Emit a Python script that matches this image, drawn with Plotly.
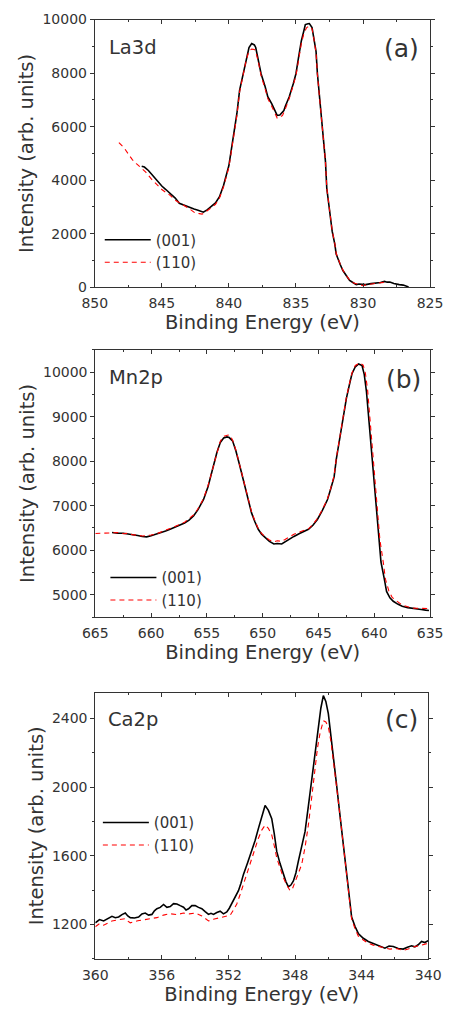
import plotly.graph_objects as go

# ---------------- Data ----------------
# (a) La3d
la_x_001 = [846.5, 846.3, 846.0, 845.7, 845.3, 845.0, 844.7, 844.4, 844.0, 843.7, 843.3, 843.0, 842.6, 842.3,
            842.0, 841.9, 841.6, 841.3, 841.0, 840.7, 840.4, 840.0, 839.7, 839.4, 839.2, 838.9, 838.7, 838.5,
            838.3, 838.1, 838.0, 837.8, 837.6, 837.3, 837.1, 836.8, 836.6, 836.4, 836.2, 836.1, 835.9, 835.8,
            835.5, 835.2, 835.0, 834.8, 834.6, 834.4, 834.3, 834.1, 834.0, 833.8, 833.7, 833.5, 833.4, 833.2,
            833.0, 832.8, 832.7, 832.5, 832.3, 832.1, 832.0, 831.7, 831.5, 831.2, 831.0, 830.7, 830.5, 830.3,
            830.1, 829.8, 829.4, 829.0, 828.7, 828.4, 828.2, 828.0, 827.7, 827.3, 827.0, 826.6]
la_y_001 = [4520, 4490, 4361, 4180, 3932, 3780, 3650, 3528, 3330, 3136, 3050, 2977, 2920, 2880,
            2830, 2805, 2900, 3014, 3150, 3381, 3800, 4545, 5525, 6500, 7362, 8100, 8587, 8950,
            9102, 9050, 8955, 8500, 7975, 7500, 7117, 6850, 6627, 6420, 6430, 6480, 6600, 6750,
            7117, 7600, 7975, 8600, 9200, 9600, 9812, 9840, 9849, 9700, 9445, 8800, 7975, 6900,
            5892, 4700, 3687, 2800, 2095, 1600, 1237, 850, 625, 400, 257, 160, 98, 120,
            110, 100, 135, 150, 180, 220, 190, 196, 140, 98, 80, 12]

la_x_110 = [848.2, 847.8, 847.5, 847.2, 846.9, 846.6, 846.2, 845.8, 845.4, 845.0, 844.7, 844.4, 844.0, 843.7,
            843.4, 843.0, 842.7, 842.5, 842.2, 842.0, 841.8, 841.6, 841.3, 841.0, 840.7, 840.4, 840.0, 839.7,
            839.4, 839.2, 838.9, 838.7, 838.5, 838.3, 838.1, 838.0, 837.8, 837.6, 837.3, 837.1, 836.8, 836.6,
            836.4, 836.2, 836.0, 835.8, 835.5, 835.2, 835.0, 834.8, 834.6, 834.4, 834.2, 834.0, 833.8, 833.7,
            833.5, 833.4, 833.2, 833.0, 832.8, 832.7, 832.5, 832.3, 832.1, 832.0, 831.7, 831.5, 831.2, 831.0,
            830.7, 830.4, 830.2, 830.0, 829.7, 829.4, 829.0, 828.7, 828.4, 828.2]
la_y_110 = [5400, 5200, 4980, 4765, 4620, 4484, 4300, 4055, 3850, 3650, 3540, 3442, 3250, 3150,
            3075, 2950, 2830, 2769, 2750, 2732, 2790, 2854, 2980, 3100, 3330, 3750, 4480, 5450,
            6420, 7300, 8030, 8500, 8830, 8893, 8880, 8800, 8420, 7900, 7420, 7050, 6750, 6520,
            6321, 6340, 6420, 6650, 7050, 7550, 7900, 8500, 9100, 9500, 9700, 9751, 9650, 9400,
            8750, 7950, 6900, 5900, 4700, 3700, 2820, 2120, 1620, 1260, 870, 640, 410, 270,
            160, 110, 80, 60, 100, 120, 150, 190, 210, 200]

# (b) Mn2p
mn_x_001 = [663.5, 663.0, 662.5, 662.1, 661.7, 661.2, 660.8, 660.4, 660.0, 659.5, 659.1, 658.7, 658.3, 657.9,
            657.5, 657.0, 656.6, 656.2, 655.8, 655.3, 654.9, 654.6, 654.4, 654.1, 653.8, 653.5, 653.2, 653.0,
            652.7, 652.4, 652.1, 651.8, 651.5, 651.2, 651.0, 650.7, 650.4, 650.1, 649.8, 649.4, 649.0, 648.7,
            648.3, 648.0, 647.6, 647.2, 646.7, 646.3, 645.9, 645.5, 645.1, 644.7, 644.2, 643.9, 643.6, 643.4,
            643.1, 642.8, 642.5, 642.2, 642.0, 641.7, 641.4, 641.1, 640.9, 640.7, 640.5, 640.3, 640.0, 639.8,
            639.6, 639.4, 639.1, 638.9, 638.6, 638.3, 637.9, 637.5, 637.0, 636.6, 636.2, 635.8, 635.4, 635.1]
mn_y_001 = [6397, 6380, 6382, 6370, 6360, 6330, 6309, 6300, 6323, 6360, 6397, 6430, 6470, 6510,
            6559, 6610, 6676, 6770, 6912, 7140, 7426, 7700, 7941, 8200, 8419, 8520, 8544, 8530,
            8456, 8230, 7941, 7640, 7353, 7080, 6838, 6640, 6470, 6360, 6287, 6200, 6140, 6150,
            6140, 6190, 6250, 6310, 6375, 6420, 6470, 6560, 6691, 6870, 7132, 7380, 7647, 8050,
            8529, 8980, 9412, 9750, 9963, 10120, 10184, 10147, 9950, 9559, 8980, 8309, 7550, 6838,
            6230, 5735, 5350, 5074, 4930, 4853, 4790, 4743, 4710, 4691, 4680, 4669, 4655, 4647]

mn_x_110 = [665.0, 664.5, 664.0, 663.5, 663.0, 662.5, 662.1, 661.7, 661.2, 660.8, 660.4, 660.0, 659.5, 659.1,
            658.7, 658.3, 657.9, 657.5, 657.0, 656.6, 656.2, 655.8, 655.3, 654.9, 654.6, 654.4, 654.1, 653.8,
            653.5, 653.1, 652.9, 652.7, 652.4, 652.1, 651.8, 651.5, 651.2, 651.0, 650.7, 650.4, 650.1, 649.8,
            649.4, 649.0, 648.7, 648.3, 648.0, 647.6, 647.2, 646.7, 646.3, 645.9, 645.5, 645.1, 644.7, 644.2,
            643.9, 643.6, 643.4, 643.1, 642.8, 642.5, 642.2, 642.0, 641.7, 641.3, 641.0, 640.8, 640.6, 640.4,
            640.2, 639.9, 639.7, 639.5, 639.2, 639.0, 638.7, 638.4, 638.0, 637.5, 637.0, 636.6, 636.2, 635.8,
            635.4, 635.0]
mn_y_110 = [6375, 6380, 6385, 6390, 6395, 6370, 6380, 6350, 6340, 6320, 6330, 6340, 6370, 6410,
            6450, 6490, 6520, 6570, 6630, 6700, 6790, 6930, 7160, 7450, 7720, 7960, 8230, 8450,
            8560, 8588, 8570, 8470, 8250, 7960, 7660, 7370, 7100, 6860, 6660, 6490, 6380, 6300,
            6230, 6190, 6213, 6200, 6240, 6300, 6360, 6410, 6440, 6480, 6580, 6710, 6890, 7150,
            7400, 7670, 8070, 8550, 9000, 9430, 9770, 9980, 10150, 10206, 10160, 9980, 9600, 9000,
            8330, 7560, 6850, 6240, 5740, 5350, 5090, 4940, 4860, 4770, 4730, 4700, 4695, 4690,
            4691, 4690]

# (c) Ca2p
ca_x_001 = [360.0, 359.75, 359.5, 359.25, 359.0, 358.8, 358.6, 358.4, 358.2, 358.05, 357.9, 357.65, 357.4,
            357.2, 357.0, 356.8, 356.6, 356.45, 356.3, 356.1, 355.9, 355.7, 355.5, 355.3, 355.1, 354.9, 354.7,
            354.55, 354.4, 354.2, 354.0, 353.8, 353.6, 353.4, 353.2, 353.05, 352.9, 352.7, 352.5, 352.3, 352.1,
            351.95, 351.8, 351.6, 351.4, 351.25, 351.1, 350.85, 350.6, 350.4, 350.2, 350.0, 349.8, 349.6, 349.4,
            349.25, 349.1, 348.9, 348.7, 348.55, 348.4, 348.25, 348.1, 347.95, 347.8, 347.6, 347.4, 347.2, 347.0,
            346.8, 346.6, 346.45, 346.3, 346.15, 346.0, 345.85, 345.7, 345.5, 345.3, 345.1, 344.9, 344.75, 344.6,
            344.4, 344.2, 343.9, 343.6, 343.3, 343.0, 342.8, 342.6, 342.35, 342.1, 341.8, 341.5, 341.25, 341.0,
            340.8, 340.6, 340.4, 340.2, 340.0]
ca_y_001 = [1210, 1229, 1221, 1235, 1248, 1240, 1244, 1258, 1267, 1250, 1240, 1238, 1244,
            1262, 1267, 1255, 1259, 1280, 1292, 1300, 1317, 1300, 1305, 1322, 1320, 1310, 1301,
            1285, 1292, 1310, 1311, 1300, 1292, 1275, 1259, 1265, 1259, 1270, 1278, 1262, 1273,
            1295, 1324, 1355, 1397, 1440, 1492, 1560, 1626, 1690, 1760, 1830, 1894, 1865, 1817,
            1730, 1626, 1555, 1492, 1450, 1420, 1430, 1454, 1500, 1569, 1650, 1741, 1890, 2047,
            2210, 2352, 2460, 2534, 2500, 2429, 2310, 2180, 2010, 1836, 1670, 1511, 1370, 1244,
            1190, 1148, 1120, 1101, 1090, 1076, 1070, 1062, 1075, 1072, 1060, 1057, 1068, 1076,
            1070, 1082, 1101, 1095, 1106]

ca_x_110 = [360.0, 359.75, 359.5, 359.25, 359.0, 358.6, 358.2, 358.05, 357.9, 357.45, 357.0, 356.65, 356.3,
            355.9, 355.5, 355.1, 354.7, 354.35, 354.0, 353.6, 353.2, 352.85, 352.5, 352.2, 351.9, 351.7, 351.5,
            351.3, 351.1, 350.85, 350.6, 350.4, 350.2, 350.0, 349.8, 349.6, 349.4, 349.25, 349.1, 348.9, 348.7,
            348.5, 348.3, 348.15, 348.0, 347.8, 347.6, 347.4, 347.2, 347.0, 346.8, 346.65, 346.5, 346.4, 346.3,
            346.15, 346.0, 345.85, 345.7, 345.5, 345.3, 345.1, 344.9, 344.75, 344.6, 344.4, 344.2, 343.9, 343.6,
            343.3, 343.0, 342.6, 342.3, 341.9, 341.5, 341.2, 340.8, 340.4, 340.0]
ca_y_110 = [1187, 1205, 1196, 1210, 1221, 1228, 1234, 1220, 1210, 1222, 1229, 1235, 1240,
            1255, 1263, 1258, 1267, 1262, 1267, 1250, 1221, 1232, 1240, 1248, 1254, 1285, 1320,
            1375, 1435, 1510, 1588, 1650, 1703, 1750, 1779, 1760, 1722, 1660, 1588, 1530, 1473,
            1430, 1397, 1410, 1445, 1495, 1550, 1650, 1779, 1940, 2104, 2230, 2314, 2360, 2387,
            2380, 2352, 2270, 2161, 2000, 1836, 1670, 1511, 1360, 1234, 1175, 1133, 1110, 1091,
            1080, 1072, 1065, 1057, 1060, 1049, 1058, 1072, 1080, 1091]

panel_labels = ["La3d", "Mn2p", "Ca2p"]
panel_tags = ["(a)", "(b)", "(c)"]
series_names = ["(001)", "(110)"]

# ---------------- Figure ----------------
W, H = 456, 1021
FONT = "DejaVu Sans"
TXT = "#333333"
AX = "#333333"

def px_y(p):
    return 1 - p / H

fig = go.Figure()

panels = [
    (la_x_001, la_y_001, la_x_110, la_y_110),
    (mn_x_001, mn_y_001, mn_x_110, mn_y_110),
    (ca_x_001, ca_y_001, ca_x_110, ca_y_110),
]
legend_ids = ["legend", "legend2", "legend3"]

for i, (x1, y1, x2, y2) in enumerate(panels):
    sfx = "" if i == 0 else str(i + 1)
    fig.add_trace(go.Scatter(x=x1, y=y1, mode="lines", name=series_names[0],
                             line=dict(color="black", width=1.6),
                             xaxis="x" + sfx, yaxis="y" + sfx, legend=legend_ids[i]))
    fig.add_trace(go.Scatter(x=x2, y=y2, mode="lines", name=series_names[1],
                             line=dict(color="#ff0000", width=1.1, dash="5px,4px"),
                             xaxis="x" + sfx, yaxis="y" + sfx, legend=legend_ids[i]))

# pixel boxes of the three plot areas: (left, right, top, bottom)
boxes = [(86.7, 442.3, 11.7, 283.7), (87.3, 442.3, 347.3, 618.7), (87.3, 440.3, 695.7, 966.0)]
xranges = [[850, 825], [665, 635], [360, 340]]
yranges = [[0, 10000], [4500, 10500], [1000, 2550]]
xdt = [(5, 2.5, 850), (5, 2.5, 665), (4, 2, 360)]
ydt = [(2000, 1000, 0), (1000, 500, 5000), (400, 200, 1200)]

layout = dict(width=W, height=H, margin=dict(l=0, r=0, t=0, b=0),
              paper_bgcolor="white", plot_bgcolor="white",
              font=dict(family=FONT, color=TXT, size=14))

for i in range(3):
    sfx = "" if i == 0 else str(i + 1)
    l, r, t, b = boxes[i]
    common = dict(showline=True, linecolor=AX, linewidth=1, mirror="allticks",
                  showgrid=False, zeroline=False, tickfont=dict(size=14, color=TXT),
                  tickcolor=AX, ticklen=4, tickwidth=1, tickformat="d")
    layout["xaxis" + sfx] = dict(common, domain=[l / W, r / W], anchor="y" + sfx,
                                 range=xranges[i], ticks="inside", dtick=xdt[i][0], tick0=xdt[i][2],
                                 ticklabelstandoff=3,
                                 minor=dict(dtick=xdt[i][1], ticks="inside", ticklen=2, tickcolor=AX),
                                 title=dict(text="Binding Energy (eV)", font=dict(size=19.5, color=TXT),
                                            standoff=1))
    layout["yaxis" + sfx] = dict(common, domain=[px_y(b), px_y(t)], anchor="x" + sfx,
                                 range=yranges[i], ticks="outside", dtick=ydt[i][0], tick0=ydt[i][2],
                                 minor=dict(dtick=ydt[i][1], ticks="outside", ticklen=2, tickcolor=AX),
                                 title=dict(text="Intensity (arb. units)", font=dict(size=19.5, color=TXT),
                                            standoff=3))

# legends
leg_pos = [(92, 219), (98, 562), (90, 811)]
for i, lid in enumerate(legend_ids):
    lx, ly = leg_pos[i]
    layout[lid] = dict(x=lx / W, y=px_y(ly), xanchor="left", yanchor="top",
                       bgcolor="rgba(0,0,0,0)", font=dict(size=15, color=TXT),
                       itemwidth=46, tracegroupgap=0)

# panel labels
anns = []
lab_pos = [(100, 40, 433, 41), (100, 375, 435, 377), (99, 723, 432, 723)]
for i in range(3):
    lx, ly, tx, ty = lab_pos[i]
    anns.append(dict(text=panel_labels[i], xref="paper", yref="paper", x=lx / W, y=px_y(ly),
                     xanchor="left", yanchor="middle", showarrow=False,
                     font=dict(size=19.5, color=TXT, family=FONT)))
    anns.append(dict(text=panel_tags[i], xref="paper", yref="paper", x=tx / W, y=px_y(ty),
                     xanchor="right", yanchor="middle", showarrow=False,
                     font=dict(size=25, color=TXT, family=FONT)))
layout["annotations"] = anns

fig.update_layout(**layout)
fig.write_html("out.html")
